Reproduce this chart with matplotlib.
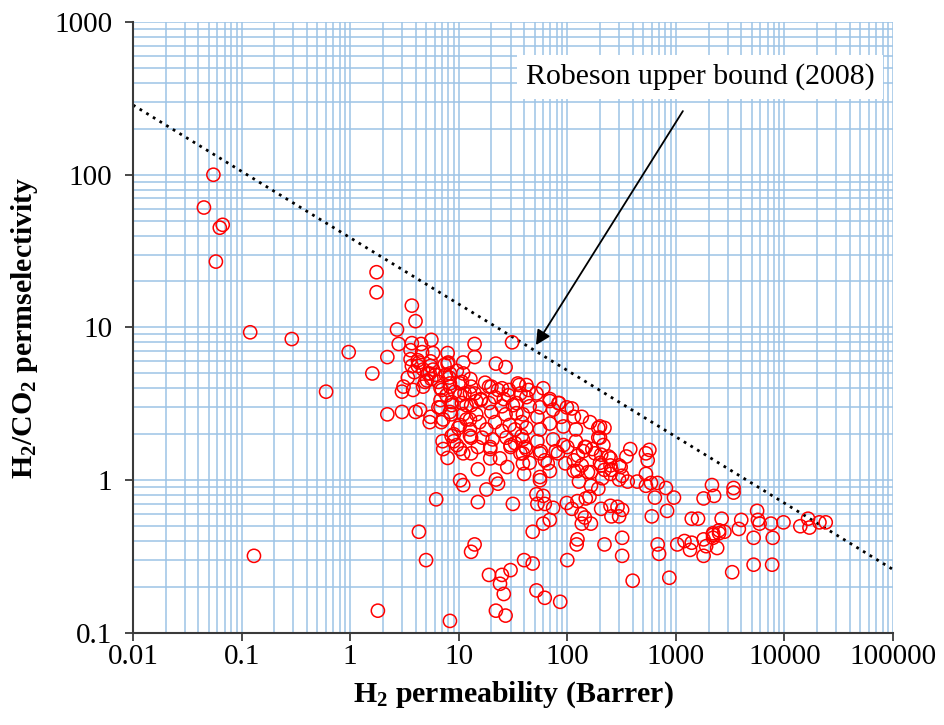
import numpy as np
import matplotlib.pyplot as plt
from matplotlib.ticker import LogLocator, NullFormatter

plt.rcParams['font.family'] = ['Liberation Serif', 'DejaVu Serif']
plt.rcParams['mathtext.fontset'] = 'custom'
plt.rcParams['mathtext.rm'] = 'Liberation Serif:bold'
plt.rcParams['mathtext.it'] = 'Liberation Serif:italic:bold'
plt.rcParams['mathtext.bf'] = 'Liberation Serif:bold'

# H2 permeability (Barrer) and H2/CO2 selectivity
h2_perm = [
    0.055, 0.045, 0.063, 0.067, 0.058, 0.12, 0.29, 0.97, 0.6, 0.13, 1.75, 1.75,
    3.7, 4.0, 2.7, 2.8, 2.2, 1.6, 2.2, 3.0, 4.0, 4.4, 5.6, 3.7, 4.5, 5.8, 7.9, 14,
    14, 11, 3.6, 3.6, 4.2, 4.2, 5.5, 5.8, 7.9, 9.6, 11, 3.4, 3.1, 3.0, 3.8, 4.7,
    5.1, 5.4, 6.5, 6.8, 8.2, 8.3, 10.3, 7.7, 10.3, 12.7, 6.8, 8.6, 11.8, 14.5, 5.5,
    5.4, 6.9, 8.5, 10.3, 12.7, 9.0, 7.1, 9.6, 12.7,
    7.9, 10.3, 11, 6.2, 15, 4.3, 14, 13, 5.0, 1.8, 8.3,
    31, 22, 27, 12.8, 19, 23, 29, 36, 44, 60, 84, 99, 69, 136, 162, 193, 56, 34,
    26, 16,
    4.6, 4.3, 5.5, 8.0, 3.7, 4.7, 7.4, 3.9, 5.2, 6.1, 8.3, 4.9, 5.6, 7.6, 8.3,
    10.7, 13, 17.5, 20, 25, 35, 7.0, 9.2, 11.3, 14, 16, 21.6, 28.6, 37, 6.8, 8.6,
    10.7, 13, 19, 25, 31.5, 6.5, 8.3, 11, 14.5, 20, 27, 34, 7.2, 11.8, 15.5, 21.6,
    29.5, 38, 9.9, 12.7, 18, 25, 33, 8.6, 9, 13, 16.5, 20.5, 27.5, 33, 38, 7.2,
    10.3, 19.5, 30, 13, 37,
    42, 83, 110, 200, 220, 200, 42, 52, 69, 45, 74, 88, 115, 39, 53, 69, 92, 120,
    42, 56, 39, 53, 74, 92, 120, 148, 140, 180, 240, 205, 42, 57, 78, 45, 62, 115,
    136, 250, 300, 380, 40, 69, 115, 165, 250, 56, 320,
    31.5, 18, 22, 23, 15, 19.5, 24, 28, 19.5, 39, 56, 128, 96, 124, 155, 165, 52,
    60, 53, 62, 74, 99, 124, 148, 110, 135, 145, 136, 165, 69, 60, 48, 124, 122,
    100, 40, 48, 30, 25, 19, 24, 26, 52, 62, 86, 22, 27,
    15, 30, 41, 66, 39, 56, 82, 100, 125, 145, 11,
    193, 215, 170, 205, 250, 200, 220, 255, 210, 310, 350, 300, 360, 440, 530, 570,
    550, 530, 530, 590, 680, 810, 640, 960, 193, 160, 205, 250, 290, 255, 300, 320,
    600, 830, 220, 320, 320, 680, 700, 400, 870, 1030, 1200, 1400, 1350, 1800,
    1900, 1800, 1400, 1600, 2150, 1800, 2250, 2200, 2500,
    3400, 3400, 5600, 2640, 4000, 5700, 5900, 7500, 9800, 16500, 14000, 17000,
    21000, 24000, 3800, 2800, 2500, 2200, 2200, 2400, 5200, 7800, 5200, 7700, 3300,
]
selectivity = [
    100, 61, 45, 47, 27, 9.3, 8.4, 6.9, 3.8, 0.32, 23, 17,
    13.9, 11, 9.7, 7.8, 6.4, 5.0, 2.7, 2.8, 2.8, 2.9, 8.3, 7.9, 7.8, 6.8, 6.8, 7.8,
    6.4, 5.9, 7.1, 6.2, 6.1, 5.6, 5.6, 5.3, 5.8, 5.2, 5.0, 4.7, 4.1, 3.8, 3.9, 4.1,
    4.5, 5.0, 4.4, 4.0, 4.7, 4.1, 4.3, 3.6, 3.6, 3.7, 3.0, 3.1, 3.1, 3.3, 2.6,
    2.4, 2.4, 2.7, 2.3, 2.5, 2.0, 1.8, 1.7, 1.95,
    1.4, 1.0, 0.93, 0.75, 0.72, 0.46, 0.38, 0.34, 0.30, 0.14, 0.12,
    8.0, 5.8, 5.5, 4.6, 4.1, 3.9, 3.9, 4.2, 3.9, 4.0, 3.2, 3.0, 3.4, 2.6, 2.4, 2.2,
    3.0, 3.2, 3.4, 3.35,
    6.9, 5.9, 6.0, 5.9, 5.6, 5.3, 5.7, 5.1, 5.0, 4.9, 5.0, 4.4, 4.6, 4.9, 4.3,
    4.4, 4.1, 4.35, 4.1, 4.0, 4.3, 3.9, 3.8, 3.7, 3.7, 3.4, 3.5, 3.6, 3.7, 3.35,
    3.25, 3.2, 3.1, 3.2, 3.05, 3.1, 3.0, 2.8, 2.7, 2.7, 2.8, 2.7, 2.75, 2.5, 2.5,
    2.4, 2.4, 2.3, 2.4, 2.2, 2.15, 2.15, 2.1, 2.15, 1.95, 1.8, 1.9, 1.9, 1.85, 1.9,
    1.75, 1.95, 1.6, 1.6, 1.6, 1.65, 1.5, 1.5,
    4.2, 3.2, 2.95, 2.25, 2.2, 1.9, 3.5, 3.7, 3.3, 3.05, 2.9, 2.6, 2.6, 2.7, 2.6,
    2.35, 2.25, 2.15, 2.2, 2.15, 1.85, 1.8, 1.85, 1.7, 1.8, 1.65, 1.55, 1.5, 1.43,
    1.25, 1.6, 1.55, 1.55, 1.3, 1.35, 1.35, 1.25, 1.25, 1.25, 1.6, 1.1, 1.15, 1.15,
    1.13, 1.1, 1.05, 1.07,
    0.70, 0.87, 1.01, 0.95, 1.18, 1.39, 1.39, 1.22, 1.65, 1.29, 1.0, 0.98, 1.29,
    1.15, 1.13, 0.92, 0.81, 0.79, 0.70, 0.70, 0.66, 0.71, 0.73, 0.76, 0.65, 0.6,
    0.57, 0.52, 0.52, 0.55, 0.52, 0.46, 0.41, 0.38, 0.30, 0.30, 0.285, 0.258, 0.24,
    0.24, 0.21, 0.18, 0.19, 0.17, 0.16, 0.14, 0.13,
    1.65, 1.7, 1.65, 1.29, 1.5, 1.5, 1.5, 1.65, 1.45, 1.65, 1.5,
    1.9, 1.7, 1.6, 1.47, 1.39, 1.3, 1.17, 1.17, 1.03, 1.22, 1.43, 1.01, 0.98, 0.98,
    1.5, 1.58, 1.35, 1.1, 0.92, 0.96, 0.96, 0.89, 0.77, 0.77, 0.88, 0.78, 0.65,
    0.68, 0.67, 0.58, 0.58, 0.64, 0.58, 0.63, 0.38, 0.42, 0.32, 0.38, 0.33, 0.22,
    0.23, 0.38, 0.40, 0.39, 0.35, 0.41, 0.37, 0.32, 0.56, 0.56, 0.93, 0.76, 0.79,
    0.45, 0.47,
    0.89, 0.83, 0.63, 0.56, 0.55, 0.55, 0.52, 0.52, 0.53, 0.56, 0.50, 0.49, 0.53,
    0.53, 0.48, 0.46, 0.45, 0.44, 0.42, 0.36, 0.42, 0.42, 0.28, 0.28, 0.25,
]

x_ticks = [0.01, 0.1, 1, 10, 100, 1000, 10000, 100000]
x_tick_labels = ['0.01', '0.1', '1', '10', '100', '1000', '10000', '100000']
y_ticks = [0.1, 1, 10, 100, 1000]
y_tick_labels = ['0.1', '1', '10', '100', '1000']

# Robeson 2008 upper bound for H2/CO2: P = k * alpha^n
robeson_k = 4515.0
robeson_n = -2.302

grid_color = '#9DC3E6'
axis_color = '#3A3A3A'

fig = plt.figure(figsize=(9.44, 7.25), dpi=100)
ax = fig.add_axes([0.1409, 0.1269, 0.8051, 0.8428])
ax.set_xscale('log')
ax.set_yscale('log')
ax.set_xlim(0.01, 1e5)
ax.set_ylim(0.1, 1000)

ax.set_axisbelow(True)
ax.xaxis.set_minor_locator(LogLocator(base=10, subs=np.arange(2, 10) * 1.0, numticks=100))
ax.yaxis.set_minor_locator(LogLocator(base=10, subs=np.arange(2, 10) * 1.0, numticks=100))
ax.xaxis.set_minor_formatter(NullFormatter())
ax.yaxis.set_minor_formatter(NullFormatter())
ax.grid(which='both', color=grid_color, linewidth=1.1)

ax.set_xticks(x_ticks)
ax.set_xticklabels(x_tick_labels)
ax.set_yticks(y_ticks)
ax.set_yticklabels(y_tick_labels)
ax.tick_params(which='minor', length=0)
ax.tick_params(axis='x', which='major', length=6, width=1.3, color=axis_color,
               labelsize=21, pad=2)
ax.tick_params(axis='y', which='major', length=6, width=1.3, color=axis_color,
               labelsize=21, pad=9)

for side in ['top', 'right']:
    ax.spines[side].set_visible(False)
for side in ['left', 'bottom']:
    ax.spines[side].set_color(axis_color)
    ax.spines[side].set_linewidth(1.5)

# upper bound line
perm_line = np.logspace(-2, 5, 200)
sel_line = (perm_line / robeson_k) ** (1.0 / robeson_n)
ax.plot(perm_line, sel_line, color='black', linewidth=2.0,
        linestyle=(0, (1, 1.8)), zorder=2)

ax.scatter(h2_perm, selectivity, s=90, facecolors='none', edgecolors='red',
           linewidths=1.1, zorder=3, clip_on=False)

ax.text(0.746, 0.910, 'Robeson upper bound (2008)', transform=ax.transAxes,
        ha='center', va='center', fontsize=21.5,
        bbox=dict(facecolor='white', edgecolor='none', pad=6), zorder=4)
arrow_tip = (51.4, 7.67)
arrow_tail = (1160, 261)
ax.annotate('', xy=arrow_tip, xytext=arrow_tail,
            arrowprops=dict(arrowstyle='-|>', color='black', lw=1.3,
                            mutation_scale=22, shrinkA=0, shrinkB=0),
            zorder=5)

ax.set_xlabel(r'H$_2$ permeability (Barrer)', fontsize=21.5, fontweight='bold',
              labelpad=7)
ax.set_ylabel(r'H$_2$/CO$_2$ permselectivity', fontsize=21.5, fontweight='bold',
              labelpad=10)

fig.savefig('out.png', dpi=100)
